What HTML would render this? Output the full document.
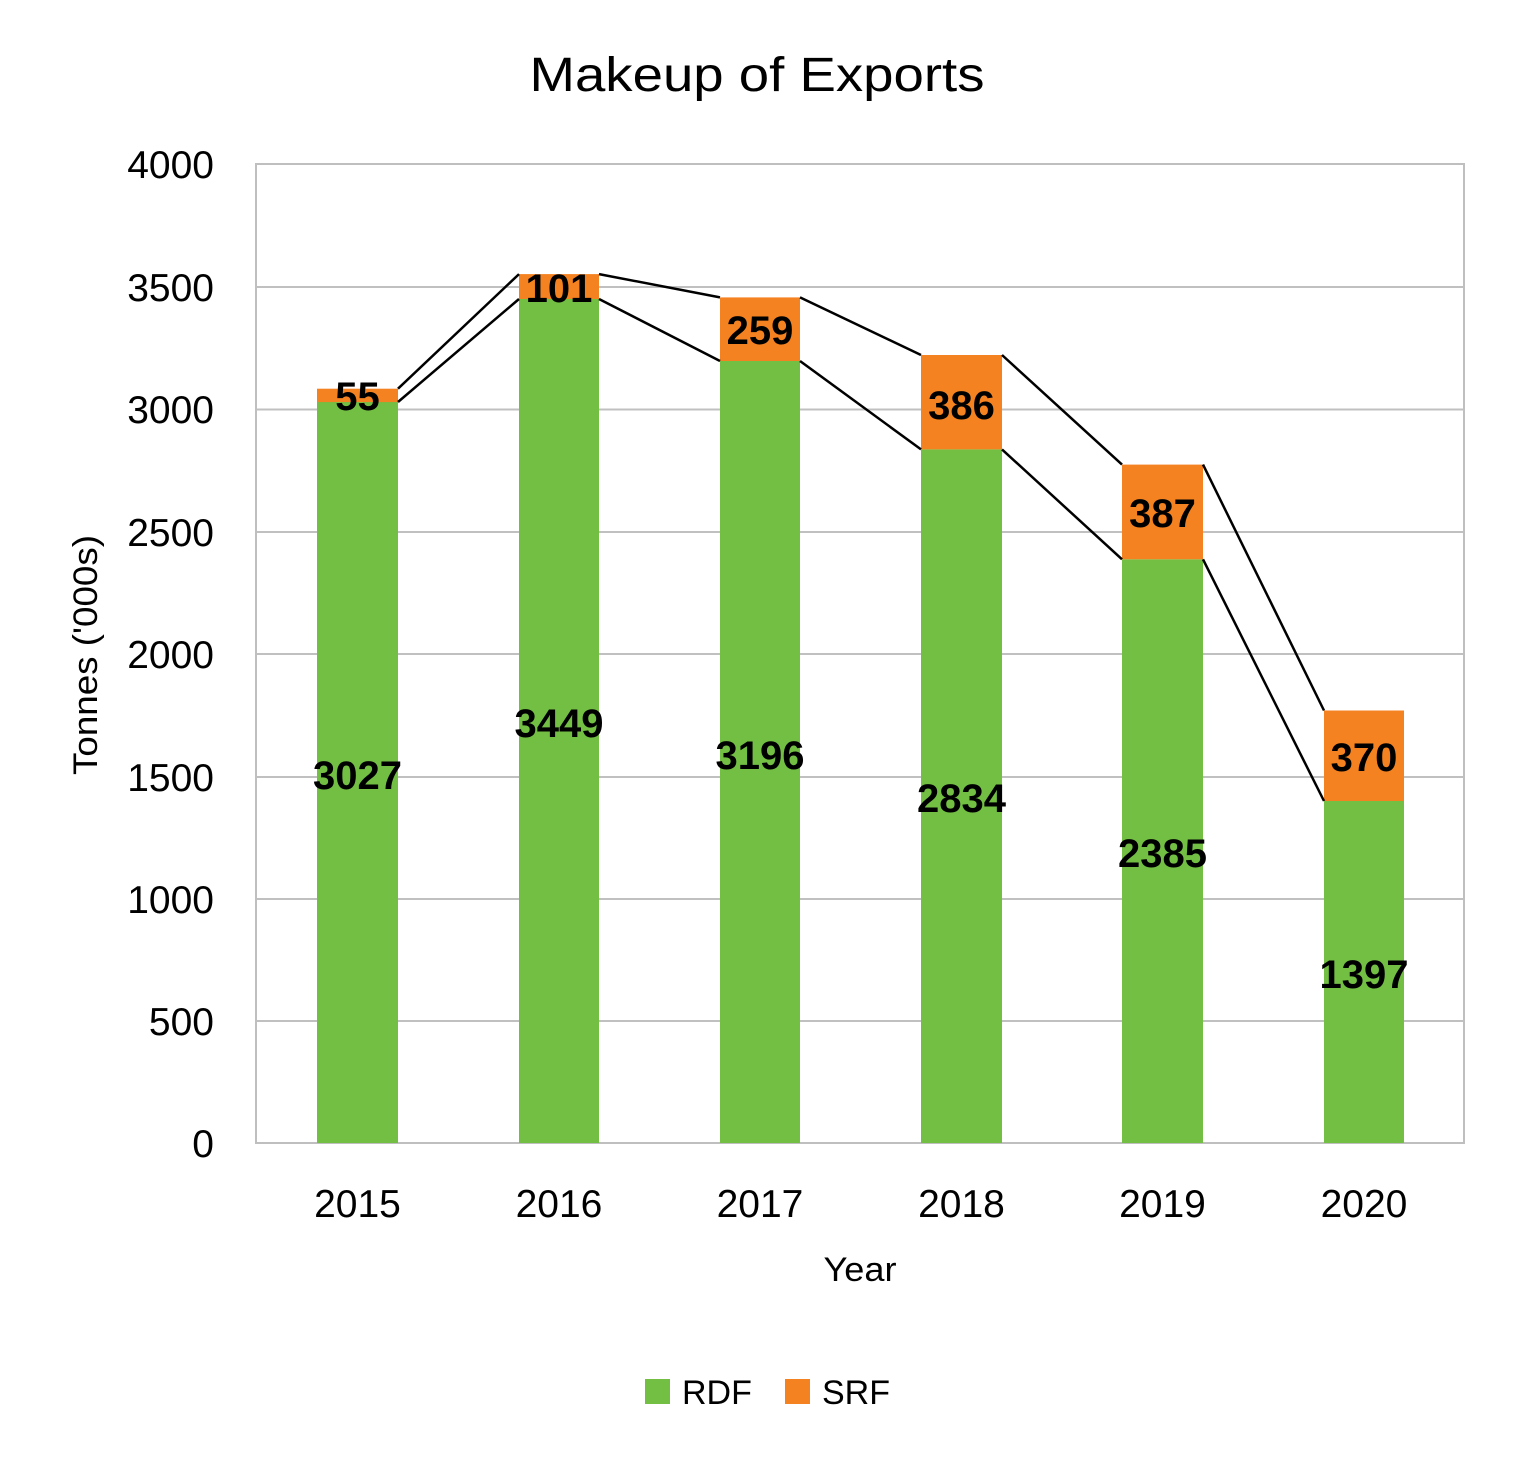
<!DOCTYPE html>
<html><head><meta charset="utf-8"><style>body{margin:0;background:#fff}svg{display:block}text{font-family:"Liberation Sans",sans-serif}</style></head><body>
<svg width="1515" height="1460" viewBox="0 0 1515 1460" xmlns="http://www.w3.org/2000/svg">
<rect width="1515" height="1460" fill="#fff"/>
<text x="757" y="91" font-size="48" text-anchor="middle" textLength="455" lengthAdjust="spacingAndGlyphs">Makeup of Exports</text>
<g stroke="#c0c0c0" stroke-width="2">
<line x1="256" y1="287" x2="1464" y2="287"/><line x1="256" y1="409.5" x2="1464" y2="409.5"/><line x1="256" y1="532" x2="1464" y2="532"/><line x1="256" y1="654" x2="1464" y2="654"/><line x1="256" y1="777" x2="1464" y2="777"/><line x1="256" y1="899" x2="1464" y2="899"/><line x1="256" y1="1021" x2="1464" y2="1021"/>
</g>
<rect x="256" y="164" width="1208" height="979" fill="none" stroke="#bfbfbf" stroke-width="2"/>
<g fill="#72BF44">
<rect x="317" y="402" width="81" height="741"/><rect x="519" y="299" width="80" height="844"/><rect x="720" y="361" width="80" height="782"/><rect x="921" y="449.4" width="81" height="693.6"/><rect x="1122" y="559.3" width="81" height="583.7"/><rect x="1324" y="801" width="80" height="342"/>
</g>
<g fill="#F58220">
<rect x="317" y="388.7" width="81" height="13.4"/><rect x="519" y="274.1" width="80" height="24.9"/><rect x="720" y="297.4" width="80" height="63.6"/><rect x="921" y="355" width="81" height="94.4"/><rect x="1122" y="464.6" width="81" height="94.7"/><rect x="1324" y="710.5" width="80" height="90.5"/>
</g>
<g stroke="#000" stroke-width="2.5" fill="none">
<polyline points="398,402 519,299"/><polyline points="599,299 720,361"/><polyline points="800,361 921,449.4"/><polyline points="1002,449.4 1122,559.3"/><polyline points="1203,559.3 1324,801"/>
<polyline points="398,388.7 519,274.1"/><polyline points="599,274.1 720,297.4"/><polyline points="800,297.4 921,355"/><polyline points="1002,355 1122,464.6"/><polyline points="1203,464.6 1324,710.5"/>
</g>
<g font-size="40" font-weight="bold" text-anchor="middle">
<text x="357.5" y="789">3027</text><text x="559" y="737">3449</text><text x="760" y="769">3196</text><text x="961.5" y="812">2834</text><text x="1162.5" y="867">2385</text><text x="1364" y="988">1397</text>
<text x="357.5" y="410">55</text><text x="559" y="302">101</text><text x="760" y="344">259</text><text x="961.5" y="419">386</text><text x="1162.5" y="527">387</text><text x="1364" y="771">370</text>
</g>
<g font-size="39" text-anchor="end">
<text x="214" y="178">4000</text><text x="214" y="301">3500</text><text x="214" y="423">3000</text><text x="214" y="546">2500</text><text x="214" y="668">2000</text><text x="214" y="791">1500</text><text x="214" y="913">1000</text><text x="214" y="1035">500</text><text x="214" y="1157">0</text>
</g>
<g font-size="39" text-anchor="middle">
<text x="357.5" y="1217">2015</text><text x="559" y="1217">2016</text><text x="760" y="1217">2017</text><text x="961.5" y="1217">2018</text><text x="1162.5" y="1217">2019</text><text x="1364" y="1217">2020</text>
</g>
<text x="860" y="1281" font-size="34" text-anchor="middle" textLength="73" lengthAdjust="spacingAndGlyphs">Year</text>
<text transform="translate(97,655) rotate(-90)" font-size="34" text-anchor="middle" textLength="240" lengthAdjust="spacingAndGlyphs">Tonnes ('000s)</text>
<rect x="645" y="1379" width="25" height="25" fill="#72BF44"/>
<text x="682" y="1404" font-size="34">RDF</text>
<rect x="785" y="1379" width="25" height="25" fill="#F58220"/>
<text x="822" y="1404" font-size="34">SRF</text>
</svg>
</body></html>
